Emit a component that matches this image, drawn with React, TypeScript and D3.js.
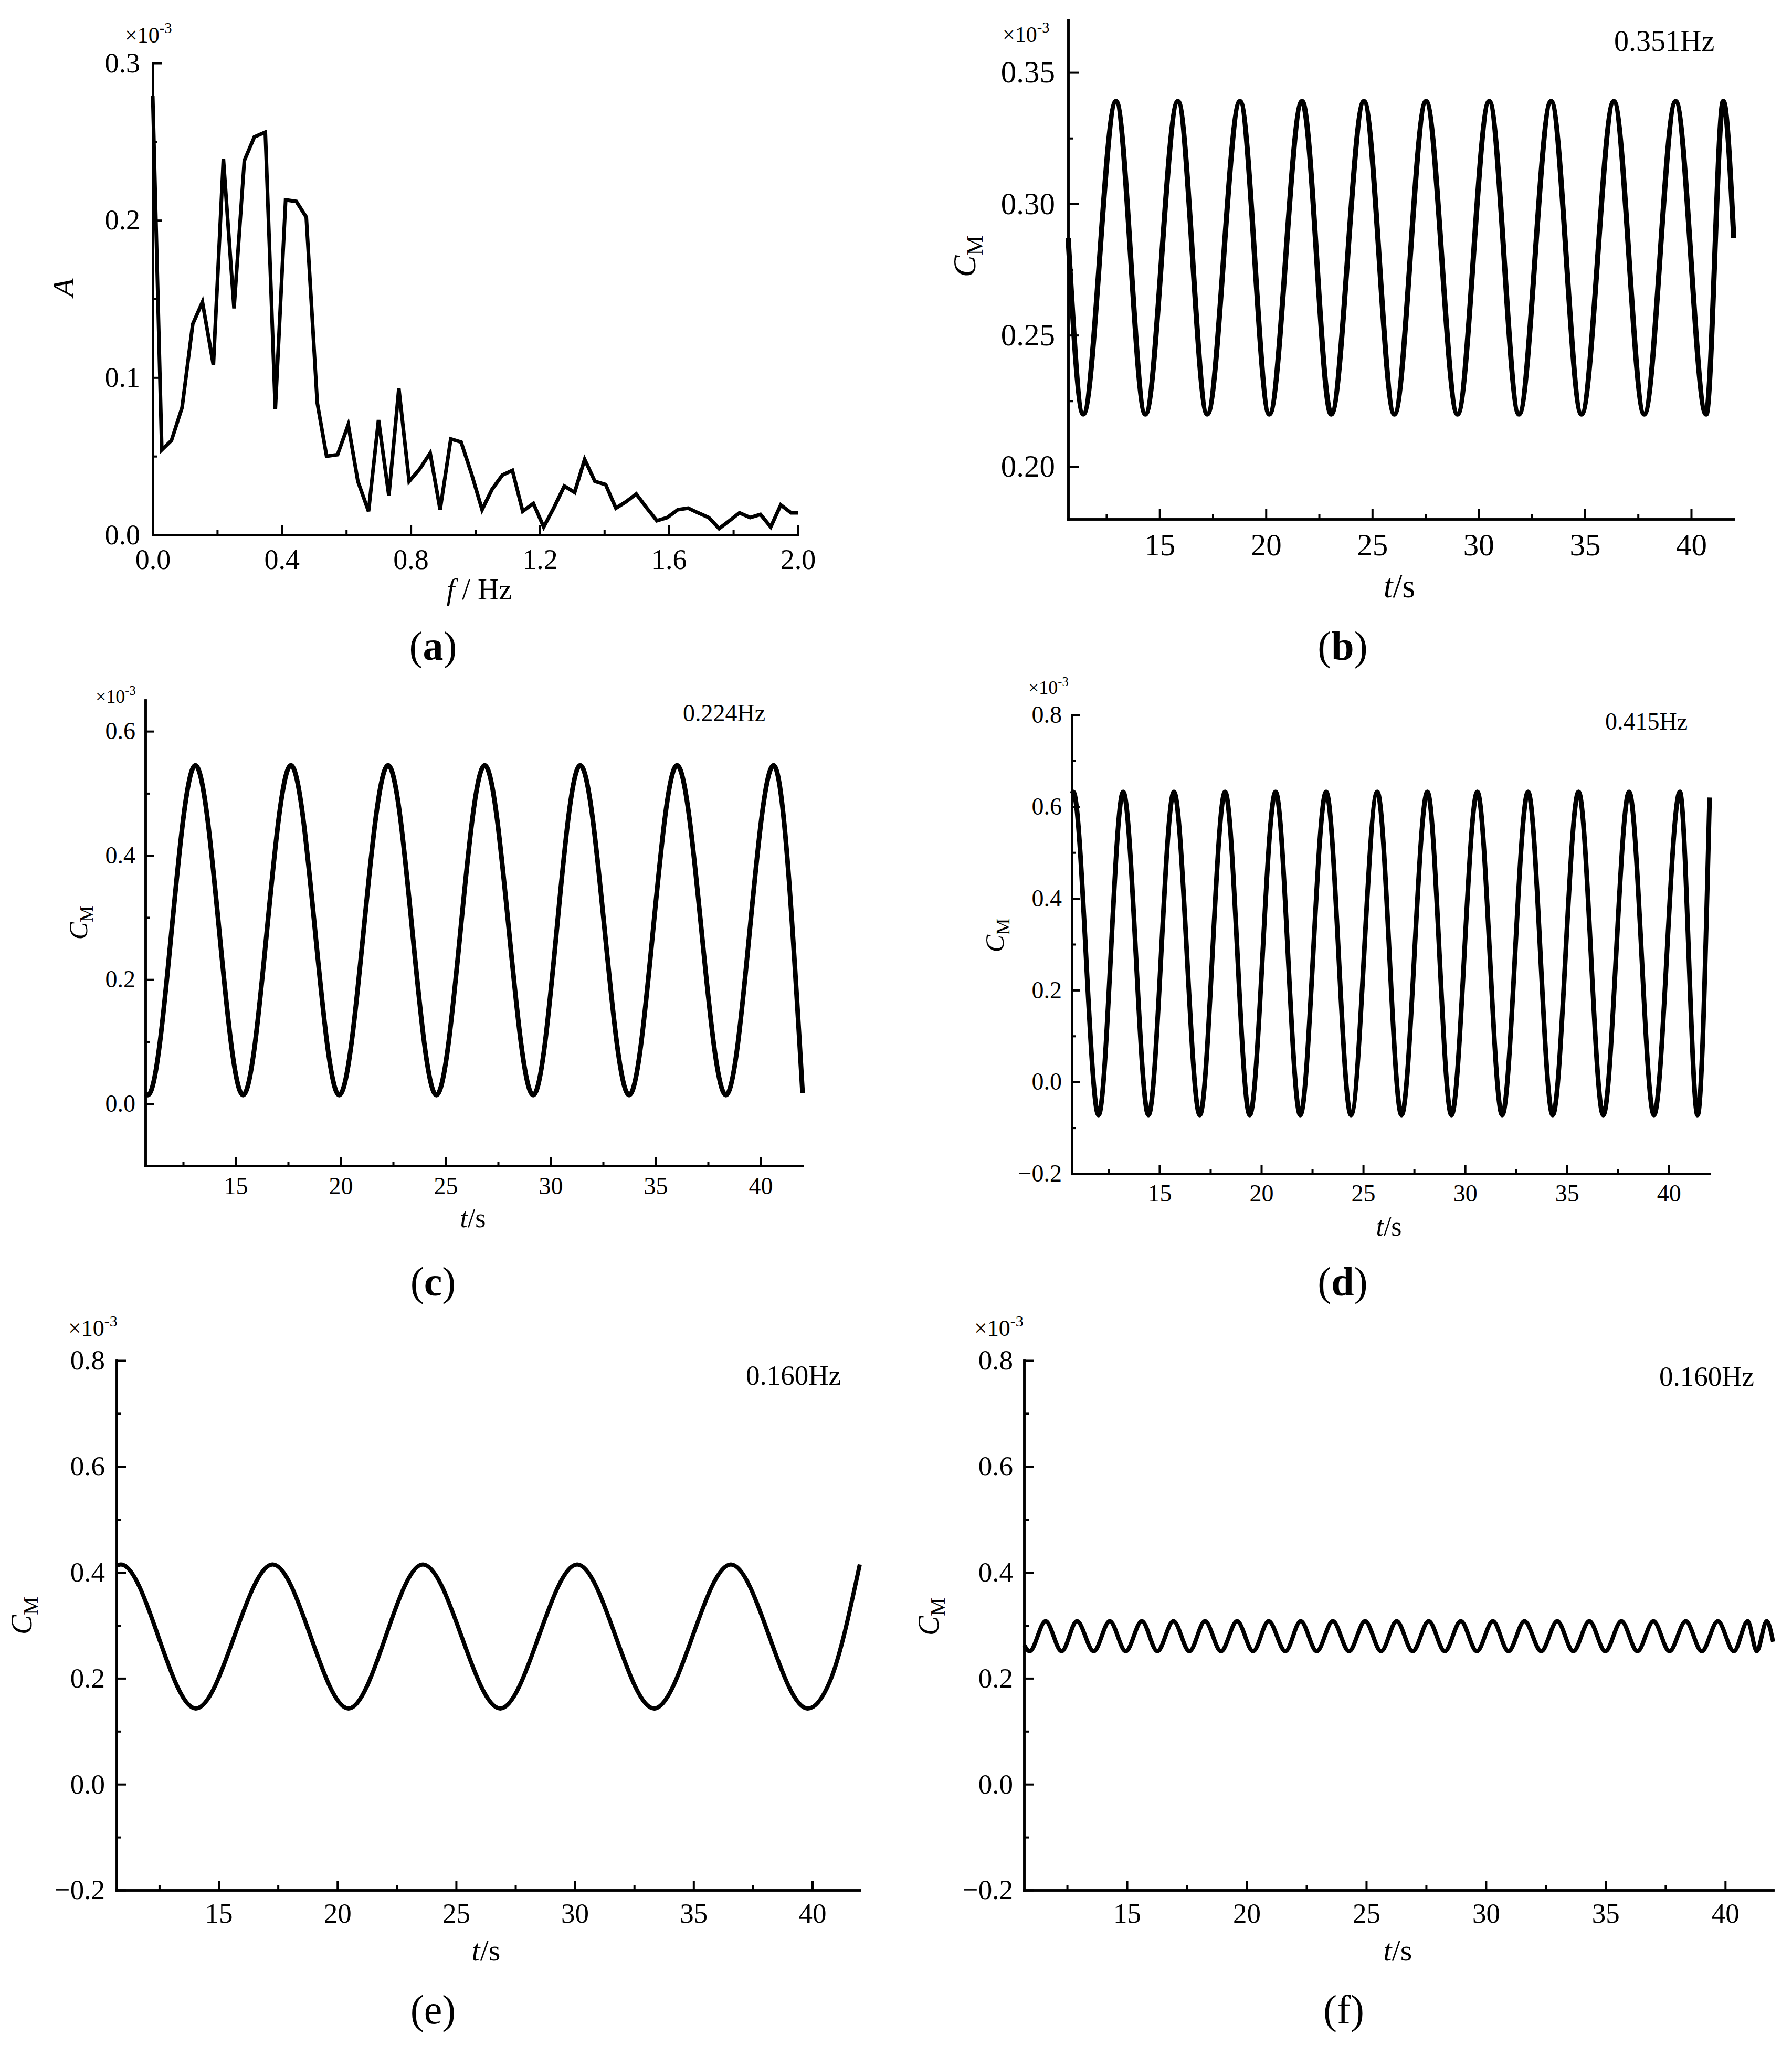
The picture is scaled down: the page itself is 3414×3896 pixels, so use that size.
import React, { useEffect, useRef } from "react";
import * as d3 from "d3";

const W = 3414;
const H = 3896;
const FONT = "Liberation Serif, Times New Roman, serif";

// (a) amplitude spectrum, A in units of 1e-3
const specFreq = [0, 0.028, 0.058, 0.091, 0.124, 0.154, 0.188, 0.219, 0.252, 0.284, 0.315, 0.349, 0.38, 0.412, 0.445, 0.476, 0.51, 0.539, 0.573, 0.606, 0.636, 0.669, 0.7, 0.732, 0.763, 0.795, 0.828, 0.86, 0.891, 0.924, 0.956, 0.988, 1.021, 1.052, 1.084, 1.115, 1.147, 1.18, 1.212, 1.243, 1.276, 1.308, 1.339, 1.371, 1.404, 1.436, 1.467, 1.499, 1.532, 1.563, 1.595, 1.628, 1.66, 1.691, 1.724, 1.756, 1.788, 1.819, 1.852, 1.884, 1.916, 1.947, 1.979, 2.0];
const specAmp = [0.279, 0.054, 0.06, 0.081, 0.134, 0.148, 0.108, 0.239, 0.144, 0.238, 0.253, 0.256, 0.08, 0.213, 0.212, 0.202, 0.084, 0.05, 0.051, 0.07, 0.034, 0.015, 0.073, 0.025, 0.093, 0.034, 0.042, 0.052, 0.016, 0.061, 0.059, 0.039, 0.016, 0.029, 0.038, 0.041, 0.015, 0.02, 0.005, 0.017, 0.031, 0.027, 0.048, 0.034, 0.032, 0.017, 0.021, 0.026, 0.017, 0.009, 0.011, 0.016, 0.017, 0.014, 0.011, 0.004, 0.009, 0.014, 0.011, 0.013, 0.005, 0.019, 0.014, 0.014];

// (b)-(f) C_M time histories, read at start, peaks, troughs and end (units of 1e-3)
const bTime = [10.7, 11.41, 12.95, 14.33, 15.86, 17.24, 18.78, 20.16, 21.7, 23.07, 24.61, 26.04, 27.53, 29.01, 30.5, 31.9, 33.41, 34.84, 36.36, 37.79, 39.27, 40.7, 41.51, 42.0];
const bCM = [0.287, 0.22, 0.339, 0.22, 0.339, 0.22, 0.339, 0.22, 0.339, 0.22, 0.339, 0.22, 0.339, 0.22, 0.339, 0.22, 0.339, 0.22, 0.339, 0.22, 0.339, 0.22, 0.339, 0.287];

const cTime = [10.7, 10.82, 13.08, 15.35, 17.63, 19.93, 22.26, 24.56, 26.86, 29.17, 31.41, 33.74, 36.02, 38.35, 40.62, 42.0];
const cCM = [0.016, 0.014, 0.545, 0.014, 0.545, 0.014, 0.545, 0.014, 0.545, 0.014, 0.545, 0.014, 0.545, 0.014, 0.545, 0.017];

const dTime = [10.7, 10.77, 12.01, 13.22, 14.46, 15.71, 16.98, 18.22, 19.43, 20.7, 21.91, 23.18, 24.4, 25.69, 26.88, 28.15, 29.33, 30.6, 31.82, 33.09, 34.3, 35.57, 36.78, 38.05, 39.27, 40.54, 41.41, 42.0];
const dCM = [0.628, 0.632, -0.072, 0.632, -0.072, 0.632, -0.072, 0.632, -0.072, 0.632, -0.072, 0.632, -0.072, 0.632, -0.072, 0.632, -0.072, 0.632, -0.072, 0.632, -0.072, 0.632, -0.072, 0.632, -0.072, 0.632, -0.072, 0.62];

const eTime = [10.7, 10.88, 14.04, 17.28, 20.47, 23.6, 26.86, 30.1, 33.34, 36.57, 39.81, 40.75, 42.0];
const eCM = [0.413, 0.415, 0.143, 0.415, 0.143, 0.415, 0.143, 0.415, 0.143, 0.415, 0.143, 0.195, 0.415];

const fTime = [10.7, 10.93, 11.6, 12.27, 12.91, 13.61, 14.28, 14.95, 15.62, 16.27, 16.94, 17.61, 18.26, 18.93, 19.6, 20.27, 20.92, 21.62, 22.26, 22.93, 23.6, 24.28, 24.95, 25.62, 26.27, 26.94, 27.61, 28.28, 28.95, 29.62, 30.29, 30.94, 31.61, 32.31, 32.98, 33.65, 34.32, 34.99, 35.66, 36.33, 37.0, 37.67, 38.35, 39.02, 39.69, 40.36, 40.94, 41.32, 41.73, 42.0];
const fCM = [0.263, 0.251, 0.308, 0.251, 0.308, 0.251, 0.308, 0.251, 0.308, 0.251, 0.308, 0.251, 0.308, 0.251, 0.308, 0.251, 0.308, 0.251, 0.308, 0.251, 0.308, 0.251, 0.308, 0.251, 0.308, 0.251, 0.308, 0.251, 0.308, 0.251, 0.308, 0.251, 0.308, 0.251, 0.308, 0.251, 0.308, 0.251, 0.308, 0.251, 0.308, 0.251, 0.308, 0.251, 0.308, 0.251, 0.308, 0.251, 0.308, 0.269];

// tick values and labels
const freqMajor = [0, 0.4, 0.8, 1.2, 1.6, 2.0];
const freqMinor = [0.2, 0.6, 1.0, 1.4, 1.8];
const ampMajor = [0, 0.1, 0.2, 0.3];
const ampMinor = [0.05, 0.15, 0.25];
const timeMajor = [15, 20, 25, 30, 35, 40];
const timeMinor = [12.5, 17.5, 22.5, 27.5, 32.5, 37.5];
const bMajor = [0.2, 0.25, 0.3, 0.35];
const bMinor = [0.225, 0.275, 0.325];
const cMajor = [0, 0.2, 0.4, 0.6];
const cMinor = [0.1, 0.3, 0.5];
const wideMajor = [-0.2, 0, 0.2, 0.4, 0.6, 0.8];
const wideMinor = [-0.1, 0.1, 0.3, 0.5, 0.7];
const freqLabels = ["0.351Hz", "0.224Hz", "0.415Hz", "0.160Hz", "0.160Hz"];
const captions = ["a", "b", "c", "d", "e", "f"];

const timeDomain: [number, number] = [10.7, 42.0];

// layout of the six panels (pixel positions)
const panels = [
  {
    xs: specFreq, ys: specAmp, smooth: false,
    xDomain: [0, 2], yDomain: [0, 0.3], xRange: [291, 1520], yRange: [1019, 120],
    xMajor: freqMajor, xMinor: freqMinor, yMajor: ampMajor, yMinor: ampMinor,
    xFmt: ".1f", yFmt: ".1f", tick: 54, padX: 27, padY: 24, tl: 18, lw: 7,
    xTitle: { x: 913, y: 1142, size: 56, freq: true },
    yTitle: { x: 140, y: 548, size: 58, amp: true },
    cap: { x: 825, y: 1257, bold: true }, mult: { x: 238, y: 81, size: 42 }, fl: null,
  },
  {
    xs: bTime, ys: bCM, smooth: true,
    xDomain: timeDomain, yDomain: [0.18, 0.37], xRange: [2035, 3303], yRange: [989, 38],
    xMajor: timeMajor, xMinor: timeMinor, yMajor: bMajor, yMinor: bMinor,
    xFmt: "d", yFmt: ".2f", tick: 59, padX: 27, padY: 25, tl: 20, lw: 10,
    xTitle: { x: 2666, y: 1138, size: 64 },
    yTitle: { x: 1858, y: 488, size: 62 },
    cap: { x: 2558, y: 1257, bold: true }, mult: { x: 1910, y: 80, size: 42 },
    fl: { x: 3075, y: 97, size: 56, text: freqLabels[0] },
  },
  {
    xs: cTime, ys: cCM, smooth: true,
    xDomain: timeDomain, yDomain: [-0.1, 0.65], xRange: [277, 1529], yRange: [2221, 1334],
    xMajor: timeMajor, xMinor: timeMinor, yMajor: cMajor, yMinor: cMinor,
    xFmt: "d", yFmt: ".1f", tick: 46, padX: 21, padY: 19, tl: 16, lw: 9,
    xTitle: { x: 901, y: 2338, size: 52 },
    yTitle: { x: 166, y: 1758, size: 50 },
    cap: { x: 825, y: 2468, bold: true }, mult: { x: 182, y: 1339, size: 36 },
    fl: { x: 1301, y: 1374, size: 46, text: freqLabels[1] },
  },
  {
    xs: dTime, ys: dCM, smooth: true,
    xDomain: timeDomain, yDomain: [-0.2, 0.8], xRange: [2042, 3257], yRange: [2236, 1362],
    xMajor: timeMajor, xMinor: timeMinor, yMajor: wideMajor, yMinor: wideMinor,
    xFmt: "d", yFmt: ".1f", tick: 46, padX: 20, padY: 19, tl: 16, lw: 9,
    xTitle: { x: 2646, y: 2354, size: 52 },
    yTitle: { x: 1912, y: 1782, size: 50 },
    cap: { x: 2558, y: 2468, bold: true }, mult: { x: 1959, y: 1322, size: 36 },
    fl: { x: 3058, y: 1390, size: 46, text: freqLabels[2] },
  },
  {
    xs: eTime, ys: eCM, smooth: true,
    xDomain: timeDomain, yDomain: [-0.2, 0.8], xRange: [222, 1638], yRange: [3601, 2592],
    xMajor: timeMajor, xMinor: timeMinor, yMajor: wideMajor, yMinor: wideMinor,
    xFmt: "d", yFmt: ".1f", tick: 53, padX: 24, padY: 22, tl: 18, lw: 8,
    xTitle: { x: 926, y: 3735, size: 58 },
    yTitle: { x: 60, y: 3078, size: 56 },
    cap: { x: 825, y: 3855, bold: false }, mult: { x: 130, y: 2545, size: 44 },
    fl: { x: 1421, y: 2638, size: 53, text: freqLabels[3] },
  },
  {
    xs: fTime, ys: fCM, smooth: true,
    xDomain: timeDomain, yDomain: [-0.2, 0.8], xRange: [1951, 3378], yRange: [3601, 2592],
    xMajor: timeMajor, xMinor: timeMinor, yMajor: wideMajor, yMinor: wideMinor,
    xFmt: "d", yFmt: ".1f", tick: 53, padX: 24, padY: 21, tl: 18, lw: 8,
    xTitle: { x: 2663, y: 3735, size: 58 },
    yTitle: { x: 1788, y: 3080, size: 56 },
    cap: { x: 2560, y: 3855, bold: false }, mult: { x: 1856, y: 2545, size: 44 },
    fl: { x: 3161, y: 2640, size: 53, text: freqLabels[4] },
  },
];

const App = () => {
  const ref = useRef<SVGSVGElement | null>(null);

  useEffect(() => {
    const svg = d3.select(ref.current);
    svg.selectAll("*").remove();
    svg.append("rect").attr("width", W).attr("height", H).attr("fill", "#fff");

    panels.forEach((p, i) => {
      const g = svg.append("g");
      const x = d3.scaleLinear().domain(p.xDomain).range(p.xRange);
      const y = d3.scaleLinear().domain(p.yDomain).range(p.yRange);

      // d3 axis puts sans-serif on the group, so restyle the texts directly
      const styleAxis = (sel: any) => {
        sel.attr("font-family", FONT).attr("font-size", p.tick);
        sel.selectAll("text")
          .attr("fill", "#000")
          .style("font-family", FONT)
          .style("font-size", `${p.tick}px`);
        sel.selectAll("line").attr("stroke", "#000").attr("stroke-width", 4);
        sel.select(".domain").attr("stroke", "#000").attr("stroke-width", 4.6).attr("stroke-linecap", "square");
      };

      // minor ticks
      g.append("g")
        .attr("transform", `translate(0,${p.yRange[0]})`)
        .call(d3.axisBottom(x).tickValues(p.xMinor).tickSizeInner(-p.tl / 2).tickSizeOuter(0).tickFormat(() => ""))
        .call(styleAxis);
      g.append("g")
        .attr("transform", `translate(${p.xRange[0]},0)`)
        .call(d3.axisLeft(y).tickValues(p.yMinor).tickSizeInner(-p.tl / 2).tickSizeOuter(0).tickFormat(() => ""))
        .call(styleAxis);

      // major ticks with labels
      g.append("g")
        .attr("transform", `translate(0,${p.yRange[0]})`)
        .call(d3.axisBottom(x).tickValues(p.xMajor).tickSizeInner(-p.tl).tickSizeOuter(0).tickPadding(p.padX).tickFormat(d3.format(p.xFmt)))
        .call(styleAxis);
      g.append("g")
        .attr("transform", `translate(${p.xRange[0]},0)`)
        .call(d3.axisLeft(y).tickValues(p.yMajor).tickSizeInner(-p.tl).tickSizeOuter(0).tickPadding(p.padY).tickFormat(d3.format(p.yFmt)))
        .call(styleAxis);

      // series
      const pts = p.xs.map((v, k) => [v, p.ys[k]] as [number, number]);
      const line = d3
        .line<[number, number]>()
        .x((d) => x(d[0]))
        .y((d) => y(d[1]))
        .curve(p.smooth ? d3.curveMonotoneX : d3.curveLinear);
      g.append("path")
        .datum(pts)
        .attr("fill", "none")
        .attr("stroke", "#000")
        .attr("stroke-width", p.lw)
        .attr("stroke-linejoin", p.smooth ? "round" : "miter")
        .attr("d", line);

      // x title
      const xt = g.append("text")
        .attr("x", p.xTitle.x).attr("y", p.xTitle.y)
        .attr("text-anchor", "middle").attr("font-family", FONT).attr("font-size", p.xTitle.size);
      if (p.xTitle.freq) {
        xt.append("tspan").attr("font-style", "italic").text("f");
        xt.append("tspan").text(" / Hz");
      } else {
        xt.append("tspan").attr("font-style", "italic").text("t");
        xt.append("tspan").text("/s");
      }

      // y title (rotated)
      const yt = g.append("text")
        .attr("transform", `translate(${p.yTitle.x},${p.yTitle.y}) rotate(-90)`)
        .attr("text-anchor", "middle").attr("font-family", FONT).attr("font-size", p.yTitle.size);
      if (p.yTitle.amp) {
        yt.append("tspan").attr("font-style", "italic").text("A");
      } else {
        yt.append("tspan").attr("font-style", "italic").text("C");
        yt.append("tspan").attr("font-size", p.yTitle.size * 0.7).attr("dy", p.yTitle.size * 0.22).text("M");
      }

      // multiplier
      const mt = g.append("text")
        .attr("x", p.mult.x).attr("y", p.mult.y)
        .attr("font-family", FONT).attr("font-size", p.mult.size);
      mt.append("tspan").text("\u00d710");
      mt.append("tspan").attr("font-size", p.mult.size * 0.68).attr("dy", -p.mult.size * 0.42).text("-3");

      // dominant frequency label
      if (p.fl) {
        g.append("text")
          .attr("x", p.fl.x).attr("y", p.fl.y)
          .attr("font-family", FONT).attr("font-size", p.fl.size)
          .text(p.fl.text);
      }

      // caption
      const ct = g.append("text")
        .attr("x", p.cap.x).attr("y", p.cap.y)
        .attr("text-anchor", "middle").attr("font-family", FONT).attr("font-size", 78);
      ct.append("tspan").text("(");
      ct.append("tspan").attr("font-weight", p.cap.bold ? "bold" : "normal").text(captions[i]);
      ct.append("tspan").text(")");
    });
  }, []);

  return (
    <svg
      ref={ref}
      width={W}
      height={H}
      viewBox={`0 0 ${W} ${H}`}
      style={{ position: "absolute", left: 0, top: 0, display: "block" }}
    />
  );
};

export default App;
